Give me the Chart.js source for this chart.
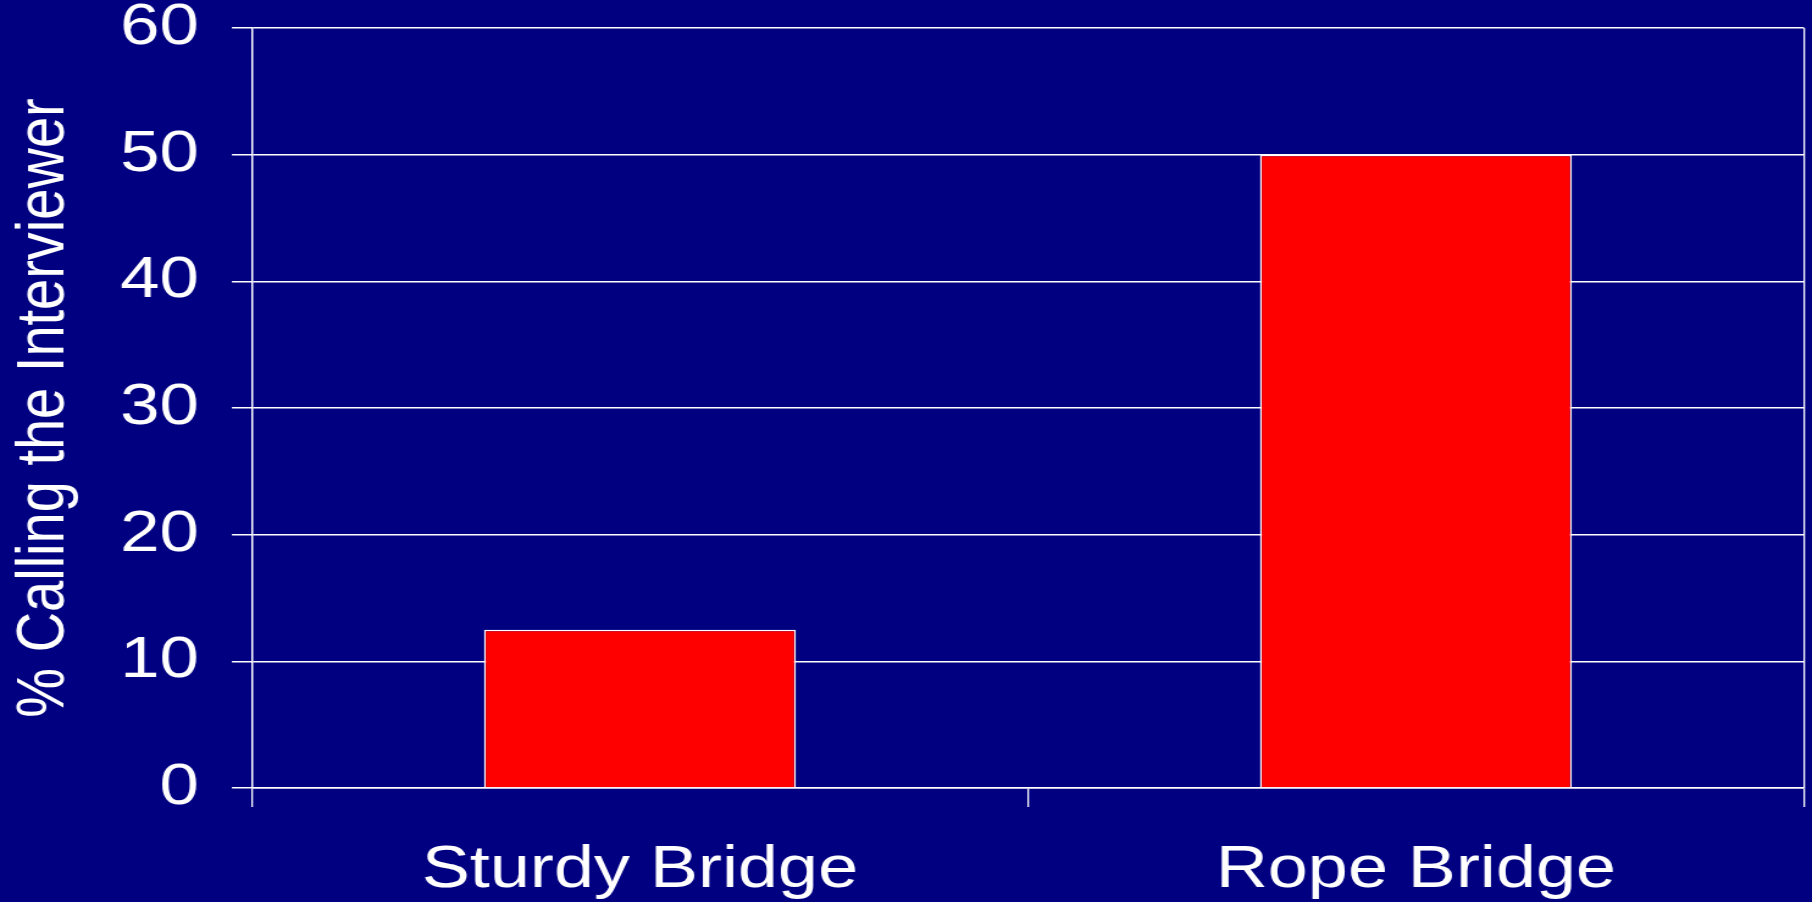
<!DOCTYPE html>
<html>
<head>
<meta charset="utf-8">
<script src="https://cdn.jsdelivr.net/npm/chart.js@4.4.1/dist/chart.umd.min.js"></script>
<style>
    body { margin: 0; background: #000080; overflow: hidden; }
    #grafico { display: block; background: #000080; }
</style>
</head>
<body>
<canvas id="grafico" width="1485" height="902" style="width: 1812px; height: 902px;"></canvas>
<script>
// dados
const categorias = ['Sturdy Bridge', 'Rope Bridge']
const porcentagens = [12.5, 50]
const eixoMin = 0
const eixoMax = 60
const eixoPasso = 10
const tituloEixoY = '% Calling the Interviewer'

const fonte = "'Liberation Sans', Arial, sans-serif"

let grafico = new Chart(
    document.getElementById('grafico'),
    {
        type: 'bar',
        data: {
            labels: categorias,
            datasets: [
                {
                    data: porcentagens,
                    backgroundColor: '#ff0000',
                    borderColor: '#ffffff',
                    borderWidth: 1.5,
                    barPercentage: 0.402,
                    categoryPercentage: 1
                }
            ]
        },
        options: {
            responsive: false,
            animation: false,
            layout: {
                padding: { top: 28, right: 6.6, bottom: 0, left: 0 }
            },
            plugins: {
                legend: { display: false },
                tooltip: { enabled: false }
            },
            scales: {
                x: {
                    grid: {
                        offset: true,
                        color: ctx => ctx.index === 1 ? 'rgba(0,0,0,0)' : '#ffffff',
                        tickColor: '#ffffff',
                        lineWidth: 1.3,
                        tickLength: 19
                    },
                    border: { color: '#ffffff', width: 1.5 },
                    ticks: {
                        color: '#ffffff',
                        padding: 28,
                        font: { family: fonte, size: 59 }
                    },
                    afterFit: escala => { escala.height = 114 }
                },
                y: {
                    min: eixoMin,
                    max: eixoMax,
                    grid: {
                        color: '#ffffff',
                        lineWidth: 1.5,
                        tickLength: 16.4
                    },
                    border: { color: '#ffffff', width: 1.3 },
                    ticks: {
                        stepSize: eixoPasso,
                        color: '#ffffff',
                        padding: 27,
                        font: { family: fonte, size: 58, lineHeight: 1 }
                    },
                    title: {
                        display: true,
                        text: tituloEixoY,
                        color: '#ffffff',
                        padding: { top: 3, bottom: 0 },
                        font: { family: fonte, size: 56 }
                    },
                    afterFit: escala => {
                        escala.width = 206.5
                        escala.paddingTop = 0
                        escala.paddingBottom = 0
                    }
                }
            }
        }
    }
)
</script>
</body>
</html>
